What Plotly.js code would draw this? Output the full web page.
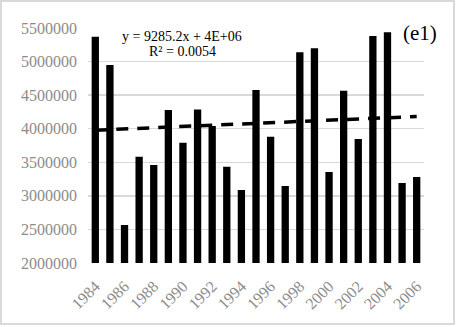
<!DOCTYPE html>
<html>
<head>
<meta charset="utf-8">
<script src="https://cdn.plot.ly/plotly-3.0.1.min.js"></script>
<style>
html,body{margin:0;padding:0;background:#fff;}
#chart{position:absolute;left:0;top:0;width:457px;height:327px;}
#frame{position:absolute;left:0;top:0;width:455px;height:325px;box-sizing:border-box;border:2px solid #d9d9d9;pointer-events:none;}
</style>
</head>
<body>
<div id="chart"></div>
<div id="frame"></div>
<script>
const years = [1984,1985,1986,1987,1988,1989,1990,1991,1992,1993,1994,1995,1996,1997,1998,1999,2000,2001,2002,2003,2004,2005,2006];
const values = [5370000,4949000,2566000,3583000,3460000,4279000,3792000,4285000,4040000,3434000,3087000,4577000,3881000,3147000,5138000,5198000,3355000,4566000,3847000,5381000,5436000,3192000,3281000];
const tickYears = [1984,1986,1988,1990,1992,1994,1996,1998,2000,2002,2004,2006];
const yTicks = [2000000,2500000,3000000,3500000,4000000,4500000,5000000,5500000];
const trendSlope = 9285.2;
const equationText = "y = 9285.2x + 4E+06";
const r2Text = "R² = 0.0054";
const panelLabel = "(e1)";

// trend line: slope from the equation, intercept from the data mean
const n = values.length;
const meanY = values.reduce((a,b)=>a+b,0)/n;
const meanX = (n+1)/2;
const intercept = meanY - trendSlope*meanX;
const trendX = [years[0], years[n-1]];
const trendY = [trendSlope*1 + intercept, trendSlope*n + intercept];

const font = "'Liberation Serif', 'Times New Roman', serif";

Plotly.newPlot('chart', [
  {type:'bar', x:years, y:values, marker:{color:'#000000'}, hoverinfo:'skip'},
  {type:'scatter', mode:'lines', x:trendX, y:trendY, line:{color:'#000000', width:3.5, dash:'12px,9px'}, hoverinfo:'skip'}
], {
  width:457, height:327,
  margin:{l:88, r:33, t:28, b:64},
  paper_bgcolor:'rgba(0,0,0,0)', plot_bgcolor:'#ffffff',
  showlegend:false,
  bargap:0.5,
  font:{family:font},
  xaxis:{
    range:[1983.5, 2006.5], tickvals:tickYears, ticktext:tickYears.map(String),
    tickangle:-45, tickfont:{family:font, size:16, color:'#8c8c8c'},
    ticklabelstandoff:10,
    showgrid:false, zeroline:false, showline:false, ticks:'', fixedrange:true
  },
  yaxis:{
    range:[2000000, 5500000], tickvals:yTicks, ticktext:yTicks.map(String),
    tickfont:{family:font, size:16, color:'#8c8c8c'},
    ticklabelstandoff:10,
    showgrid:true, gridcolor:'#d9d9d9', gridwidth:1.5, zeroline:false, showline:false, ticks:'',
    fixedrange:true
  },
  annotations:[
    {xref:'paper', yref:'paper', x:0.28, y:0.962, xanchor:'center', yanchor:'middle', text:equationText, showarrow:false, font:{family:font, size:14, color:'#000'}},
    {xref:'paper', yref:'paper', x:0.28, y:0.898, xanchor:'center', yanchor:'middle', text:r2Text, showarrow:false, font:{family:font, size:14, color:'#000'}},
    {xref:'paper', yref:'paper', x:0.988, y:0.979, xanchor:'center', yanchor:'middle', text:panelLabel, showarrow:false, font:{family:font, size:21, color:'#000'}}
  ]
}, {displayModeBar:false, staticPlot:true});
</script>
</body>
</html>
